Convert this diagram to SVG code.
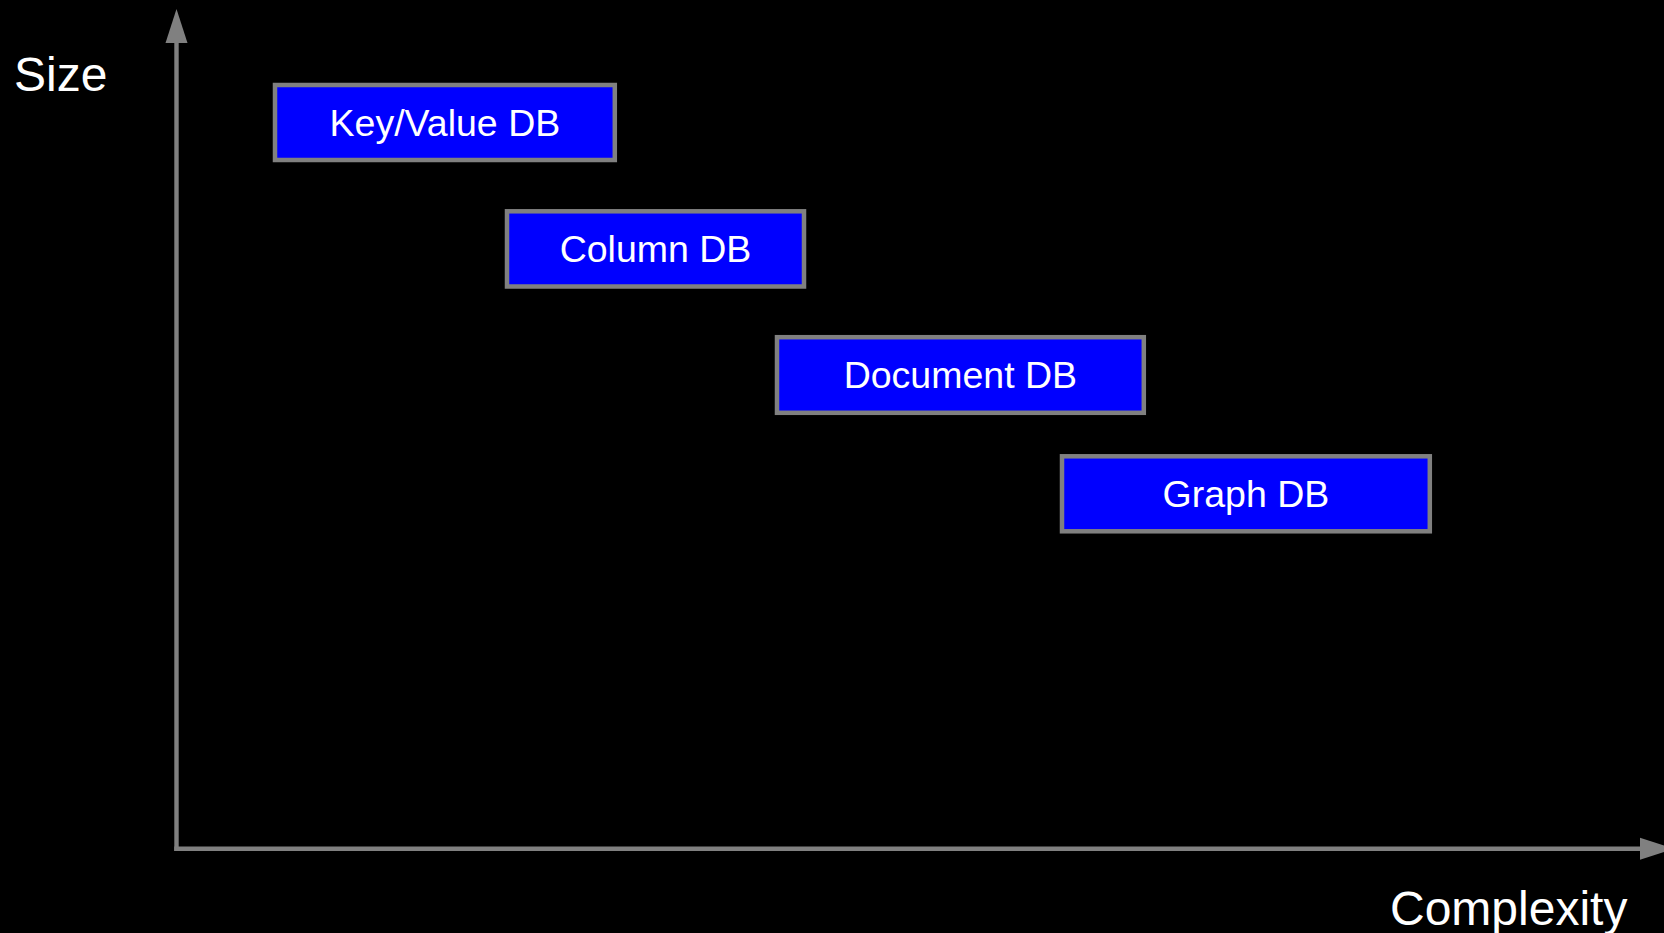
<svg xmlns="http://www.w3.org/2000/svg" width="1664" height="933" viewBox="0 0 1664 933">
  <style>
    .box { fill: #0000ff; stroke: #808080; stroke-width: 4.5; }
    .label { font-family: "Liberation Sans", Arial, sans-serif; font-size: 37.5px; fill: #ffffff; text-anchor: middle; }
    .axis-title { font-family: "Liberation Sans", Arial, sans-serif; font-size: 48px; fill: #ffffff; }
    .axis { stroke: #808080; stroke-width: 4.4; fill: none; }
  </style>
  <defs>
    <marker id="arrow" markerUnits="userSpaceOnUse" markerWidth="36" markerHeight="24" refX="0" refY="12" orient="auto">
      <polygon points="0,1 34,12 0,23" fill="#808080"/>
    </marker>
  </defs>
  <rect width="1664" height="933" fill="#000000"/>

  <!-- axes -->
  <g id="connectors">
    <line class="axis" x1="176.5" y1="851" x2="176.5" y2="43" marker-end="url(#arrow)"/>
    <line class="axis" x1="174.3" y1="848.8" x2="1640" y2="848.8" marker-end="url(#arrow)"/>
  </g>

  <text id="size-label" class="axis-title" x="14" y="91">Size</text>
  <text id="complexity-label" class="axis-title" x="1390" y="924.5">Complexity</text>

  <g id="keyvalue-db">
    <rect class="box" x="275" y="85" width="339.8" height="75"/>
    <text class="label" x="444.9" y="136">Key/Value DB</text>
  </g>
  <g id="column-db">
    <rect class="box" x="507" y="211.3" width="297" height="75.2"/>
    <text class="label" x="655.5" y="261.5">Column DB</text>
  </g>
  <g id="document-db">
    <rect class="box" x="777" y="337.2" width="366.8" height="75.6"/>
    <text class="label" x="960.4" y="387.7">Document DB</text>
  </g>
  <g id="graph-db">
    <rect class="box" x="1062" y="456.3" width="367.8" height="75"/>
    <text class="label" x="1245.9" y="506.7">Graph DB</text>
  </g>
</svg>
